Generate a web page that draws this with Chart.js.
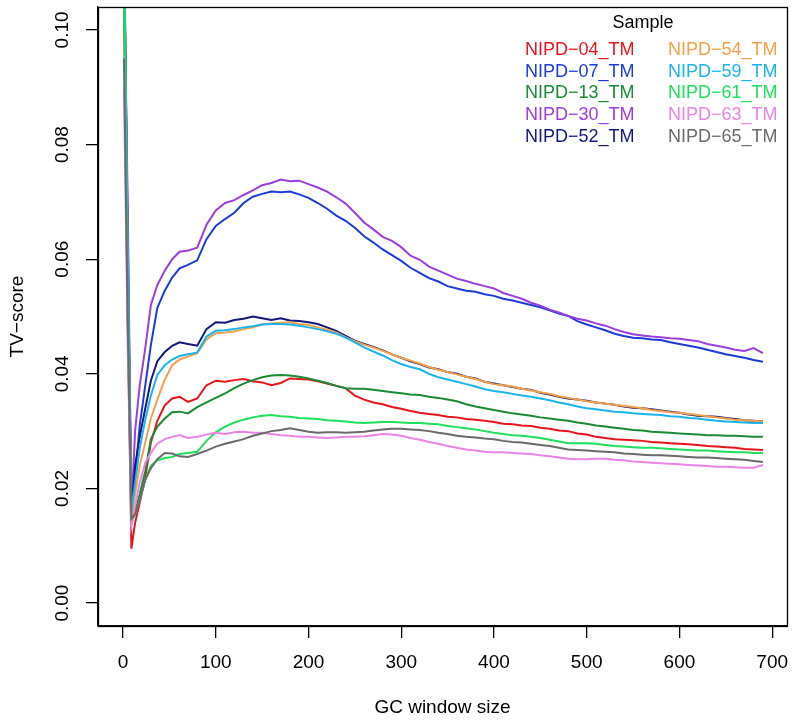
<!DOCTYPE html>
<html>
<head>
<meta charset="utf-8">
<script src="https://cdn.jsdelivr.net/npm/chart.js@4.4.1/dist/chart.umd.min.js"></script>
<style>
  html, body { margin: 0; padding: 0; background: #fff; }
  #wrap { width: 795px; height: 724px; }
</style>
</head>
<body>
<div id="wrap"><canvas id="tv" width="795" height="724"></canvas></div>
<script>
// GC window sizes where the curves were read
const windowSizes = [1, 5, 9, 13, 18, 24, 30, 37, 45, 53, 61, 70, 80, 90,
  100, 110, 120, 130, 140, 150, 160, 170, 180, 190, 200, 210, 220, 230, 240, 250, 260, 270, 280, 290,
  300, 310, 320, 330, 340, 350, 360, 370, 380, 390, 400, 410, 420, 430, 440, 450, 460, 470, 480, 490,
  500, 510, 520, 530, 540, 550, 560, 570, 580, 590, 600, 610, 620, 630, 640, 650, 660, 670, 680, 690]

const sampleNames = ['NIPD-04_TM', 'NIPD-07_TM', 'NIPD-13_TM', 'NIPD-30_TM', 'NIPD-52_TM',
  'NIPD-54_TM', 'NIPD-59_TM', 'NIPD-61_TM', 'NIPD-63_TM', 'NIPD-65_TM']

const nipd04 = [0.105, 0.050, 0.0095, 0.0140, 0.0175, 0.0220, 0.0280, 0.0318, 0.0345, 0.0357, 0.0360, 0.0351, 0.0357, 0.0380,
  0.0388, 0.0386, 0.0389, 0.0391, 0.0387, 0.0385, 0.0380, 0.0384, 0.0392, 0.0391, 0.0390, 0.0387, 0.0383, 0.0379, 0.0375, 0.0362, 0.0355, 0.0350, 0.0347, 0.0342,
  0.0339, 0.0335, 0.0332, 0.0330, 0.0328, 0.0325, 0.0324, 0.0321, 0.0320, 0.0318, 0.0316, 0.0313, 0.0312, 0.0310, 0.0309, 0.0306, 0.0304, 0.0301, 0.0300, 0.0296,
  0.0294, 0.0290, 0.0288, 0.0286, 0.0285, 0.0284, 0.0283, 0.0281, 0.0280, 0.0279, 0.0278, 0.0277, 0.0276, 0.0274, 0.0273, 0.0272, 0.0271, 0.0269, 0.0268, 0.0267]
const nipd07 = [0.115, 0.065, 0.0150, 0.0220, 0.0310, 0.0380, 0.0450, 0.0515, 0.0545, 0.0568, 0.0584, 0.0590, 0.0598, 0.0635,
  0.0658, 0.0670, 0.0681, 0.0698, 0.0709, 0.0714, 0.0718, 0.0717, 0.0718, 0.0713, 0.0707, 0.0698, 0.0688, 0.0676, 0.0667, 0.0655, 0.0640, 0.0629, 0.0617, 0.0607,
  0.0597, 0.0585, 0.0576, 0.0567, 0.0561, 0.0553, 0.0549, 0.0545, 0.0543, 0.0539, 0.0536, 0.0531, 0.0528, 0.0524, 0.0520, 0.0516, 0.0511, 0.0505, 0.0501, 0.0492,
  0.0486, 0.0481, 0.0476, 0.0470, 0.0466, 0.0463, 0.0462, 0.0460, 0.0459, 0.0455, 0.0452, 0.0449, 0.0446, 0.0442, 0.0438, 0.0434, 0.0431, 0.0428, 0.0424, 0.0421]
const nipd13 = [0.108, 0.055, 0.0140, 0.0160, 0.0190, 0.0230, 0.0286, 0.0308, 0.0322, 0.0333, 0.0334, 0.0331, 0.0342, 0.0350,
  0.0358, 0.0366, 0.0375, 0.0383, 0.0389, 0.0394, 0.0397, 0.0398, 0.0397, 0.0395, 0.0392, 0.0388, 0.0384, 0.0379, 0.0375, 0.0374, 0.0374, 0.0372, 0.0370, 0.0368,
  0.0366, 0.0364, 0.0363, 0.0360, 0.0358, 0.0355, 0.0352, 0.0347, 0.0343, 0.0340, 0.0337, 0.0334, 0.0331, 0.0329, 0.0327, 0.0324, 0.0322, 0.0320, 0.0318, 0.0315,
  0.0313, 0.0310, 0.0308, 0.0306, 0.0304, 0.0302, 0.0301, 0.0299, 0.0298, 0.0297, 0.0296, 0.0295, 0.0294, 0.0293, 0.0293, 0.0292, 0.0292, 0.0291, 0.0290, 0.0290]
const nipd30 = [0.112, 0.070, 0.0160, 0.0300, 0.0380, 0.0445, 0.0520, 0.0555, 0.0580, 0.0600, 0.0613, 0.0615, 0.0620, 0.0660,
  0.0685, 0.0698, 0.0703, 0.0712, 0.0720, 0.0729, 0.0733, 0.0739, 0.0736, 0.0737, 0.0731, 0.0725, 0.0718, 0.0708, 0.0697, 0.0681, 0.0664, 0.0652, 0.0639, 0.0632,
  0.0621, 0.0606, 0.0599, 0.0587, 0.0580, 0.0573, 0.0566, 0.0562, 0.0557, 0.0553, 0.0549, 0.0541, 0.0536, 0.0531, 0.0524, 0.0519, 0.0512, 0.0507, 0.0501, 0.0496,
  0.0493, 0.0488, 0.0484, 0.0478, 0.0473, 0.0469, 0.0467, 0.0465, 0.0464, 0.0462, 0.0461, 0.0459, 0.0457, 0.0452, 0.0449, 0.0446, 0.0442, 0.0440, 0.0445, 0.0436]
const nipd52 = [0.118, 0.060, 0.0160, 0.0240, 0.0290, 0.0340, 0.0388, 0.0422, 0.0438, 0.0449, 0.0455, 0.0452, 0.0449, 0.0478,
  0.0490, 0.0489, 0.0494, 0.0496, 0.0500, 0.0497, 0.0494, 0.0497, 0.0493, 0.0492, 0.0490, 0.0487, 0.0481, 0.0475, 0.0466, 0.0458, 0.0452, 0.0447, 0.0441, 0.0434,
  0.0428, 0.0422, 0.0417, 0.0411, 0.0408, 0.0403, 0.0400, 0.0395, 0.0392, 0.0386, 0.0383, 0.0380, 0.0377, 0.0374, 0.0372, 0.0367, 0.0364, 0.0360, 0.0357, 0.0355,
  0.0353, 0.0350, 0.0348, 0.0346, 0.0343, 0.0341, 0.0340, 0.0338, 0.0336, 0.0334, 0.0332, 0.0329, 0.0327, 0.0326, 0.0325, 0.0323, 0.0321, 0.0319, 0.0318, 0.0317]
const nipd54 = [0.112, 0.060, 0.0150, 0.0190, 0.0240, 0.0280, 0.0322, 0.0355, 0.0390, 0.0415, 0.0425, 0.0430, 0.0436, 0.0460,
  0.0471, 0.0472, 0.0474, 0.0478, 0.0481, 0.0486, 0.0488, 0.0489, 0.0490, 0.0487, 0.0485, 0.0481, 0.0477, 0.0472, 0.0464, 0.0457, 0.0451, 0.0446, 0.0440, 0.0434,
  0.0428, 0.0423, 0.0418, 0.0412, 0.0407, 0.0403, 0.0399, 0.0395, 0.0391, 0.0386, 0.0382, 0.0380, 0.0378, 0.0374, 0.0371, 0.0368, 0.0365, 0.0361, 0.0358, 0.0355,
  0.0352, 0.0350, 0.0348, 0.0346, 0.0344, 0.0342, 0.0340, 0.0337, 0.0335, 0.0333, 0.0332, 0.0330, 0.0328, 0.0326, 0.0324, 0.0322, 0.0320, 0.0319, 0.0318, 0.0317]
const nipd59 = [0.120, 0.062, 0.0160, 0.0210, 0.0270, 0.0320, 0.0362, 0.0398, 0.0415, 0.0425, 0.0431, 0.0434, 0.0437, 0.0465,
  0.0475, 0.0476, 0.0478, 0.0481, 0.0483, 0.0486, 0.0487, 0.0487, 0.0486, 0.0484, 0.0481, 0.0478, 0.0474, 0.0470, 0.0463, 0.0455, 0.0446, 0.0439, 0.0432, 0.0424,
  0.0417, 0.0412, 0.0408, 0.0400, 0.0394, 0.0390, 0.0386, 0.0382, 0.0378, 0.0373, 0.0370, 0.0368, 0.0365, 0.0362, 0.0360, 0.0357, 0.0354, 0.0350, 0.0347, 0.0343,
  0.0340, 0.0338, 0.0336, 0.0334, 0.0333, 0.0331, 0.0330, 0.0329, 0.0328, 0.0326, 0.0325, 0.0323, 0.0322, 0.0320, 0.0318, 0.0317, 0.0316, 0.0315, 0.0314, 0.0314]
const nipd61 = [0.110, 0.050, 0.0140, 0.0155, 0.0180, 0.0215, 0.0240, 0.0249, 0.0253, 0.0255, 0.0260, 0.0262, 0.0264, 0.0283,
  0.0298, 0.0308, 0.0315, 0.0320, 0.0324, 0.0327, 0.0328, 0.0326, 0.0325, 0.0323, 0.0322, 0.0321, 0.0319, 0.0318, 0.0317, 0.0315, 0.0314, 0.0315, 0.0316, 0.0316,
  0.0315, 0.0314, 0.0314, 0.0313, 0.0312, 0.0309, 0.0307, 0.0305, 0.0303, 0.0300, 0.0297, 0.0295, 0.0293, 0.0292, 0.0290, 0.0288, 0.0285, 0.0282, 0.0279, 0.0279,
  0.0279, 0.0278, 0.0276, 0.0274, 0.0273, 0.0272, 0.0271, 0.0271, 0.0270, 0.0269, 0.0268, 0.0267, 0.0266, 0.0266, 0.0265, 0.0264, 0.0263, 0.0263, 0.0262, 0.0262]
const nipd63 = [0.090, 0.045, 0.0135, 0.0170, 0.0210, 0.0245, 0.0262, 0.0278, 0.0286, 0.0290, 0.0293, 0.0288, 0.0290, 0.0294,
  0.0297, 0.0295, 0.0298, 0.0299, 0.0297, 0.0297, 0.0295, 0.0293, 0.0292, 0.0290, 0.0290, 0.0289, 0.0288, 0.0289, 0.0290, 0.0290, 0.0291, 0.0293, 0.0295, 0.0294,
  0.0292, 0.0288, 0.0285, 0.0281, 0.0278, 0.0274, 0.0271, 0.0268, 0.0266, 0.0264, 0.0263, 0.0263, 0.0262, 0.0261, 0.0260, 0.0258, 0.0256, 0.0254, 0.0252, 0.0251,
  0.0251, 0.0252, 0.0252, 0.0250, 0.0249, 0.0247, 0.0246, 0.0245, 0.0244, 0.0243, 0.0242, 0.0241, 0.0240, 0.0239, 0.0238, 0.0238, 0.0237, 0.0236, 0.0236, 0.0241]
const nipd65 = [0.095, 0.050, 0.0147, 0.0155, 0.0180, 0.0215, 0.0235, 0.0251, 0.0262, 0.0261, 0.0256, 0.0255, 0.0260, 0.0266,
  0.0273, 0.0278, 0.0282, 0.0286, 0.0292, 0.0296, 0.0300, 0.0302, 0.0305, 0.0302, 0.0299, 0.0297, 0.0298, 0.0298, 0.0297, 0.0298, 0.0299, 0.0301, 0.0303, 0.0304,
  0.0304, 0.0303, 0.0302, 0.0300, 0.0297, 0.0295, 0.0292, 0.0290, 0.0289, 0.0287, 0.0286, 0.0283, 0.0281, 0.0280, 0.0278, 0.0276, 0.0274, 0.0271, 0.0268, 0.0267,
  0.0266, 0.0265, 0.0264, 0.0263, 0.0261, 0.0260, 0.0259, 0.0258, 0.0258, 0.0257, 0.0256, 0.0255, 0.0254, 0.0254, 0.0253, 0.0252, 0.0251, 0.0250, 0.0248, 0.0246]

const seriesValues = [nipd04, nipd07, nipd13, nipd30, nipd52, nipd54, nipd59, nipd61, nipd63, nipd65]
const lineColors = ['#e8141c', '#1c3ad8', '#1b8a34', '#9a3ede', '#10187c',
  '#f4a048', '#1ab4ec', '#1ee05a', '#ea84e6', '#6a6a6a']

const FONT = '"Liberation Sans", Arial, Helvetica, sans-serif'
const MINUS = '\u2212'

// draws box, tick labels, axis titles and the R-style text legend
const framePlugin = {
  id: 'frame',
  afterDraw(chart) {
    const ctx = chart.ctx
    const area = chart.chartArea
    const xs = chart.scales.x
    const ys = chart.scales.y
    ctx.save()
    ctx.strokeStyle = '#000'
    ctx.lineWidth = 1.3
    ctx.strokeRect(Math.round(area.left) + 0.5, Math.round(area.top) + 0.5,
      Math.round(area.right - area.left), Math.round(area.bottom - area.top))

    ctx.fillStyle = '#000'
    ctx.font = '19px ' + FONT
    ctx.textAlign = 'center'
    ctx.textBaseline = 'middle'
    xs.ticks.forEach((t) => {
      ctx.fillText(String(Math.round(t.value)), xs.getPixelForValue(t.value), 663)
    })
    ys.ticks.forEach((t) => {
      ctx.save()
      ctx.translate(63, ys.getPixelForValue(t.value))
      ctx.rotate(-Math.PI / 2)
      ctx.fillText(t.value.toFixed(2), 0, 0)
      ctx.restore()
    })

    // axis titles
    ctx.fillText('GC window size', (area.left + area.right) / 2, 708)
    ctx.save()
    ctx.translate(18, (area.top + area.bottom) / 2)
    ctx.rotate(-Math.PI / 2)
    ctx.fillText('TV' + MINUS + 'score', 0, 0)
    ctx.restore()

    // legend
    ctx.font = '18px ' + FONT
    ctx.fillText('Sample', 643, 23)
    ctx.textAlign = 'left'
    chart.data.datasets.forEach((ds, i) => {
      const col = Math.floor(i / 5)
      const row = i % 5
      ctx.fillStyle = ds.borderColor
      ctx.fillText(ds.label.replace('-', MINUS), col === 0 ? 525 : 668, 50 + row * 21.7)
    })
    ctx.restore()
  }
}

const datasets = seriesValues.map((vals, i) => ({
  label: sampleNames[i],
  data: vals.map((v, j) => ({ x: windowSizes[j], y: v })),
  borderColor: lineColors[i],
  backgroundColor: lineColors[i],
  borderWidth: 2,
  pointRadius: 0,
  tension: 0,
  fill: false,
  order: seriesValues.length - i
}))

new Chart(document.getElementById('tv'), {
  type: 'line',
  data: { datasets },
  options: {
    responsive: false,
    animation: false,
    devicePixelRatio: 1,
    layout: { padding: { top: 7, right: 8, left: 0, bottom: 0 } },
    plugins: { legend: { display: false }, tooltip: { enabled: false } },
    scales: {
      x: {
        type: 'linear',
        min: -27,
        max: 716,
        afterFit: (s) => { s.height = 98 },
        ticks: { display: false, stepSize: 100, includeBounds: false },
        grid: { display: true, drawOnChartArea: false, drawTicks: true, tickLength: 12, color: '#000', lineWidth: 1.3 },
        border: { display: true, color: '#000', width: 1.3 }
      },
      y: {
        type: 'linear',
        min: -0.004,
        max: 0.104,
        afterFit: (s) => { s.width = 98 },
        ticks: { display: false, stepSize: 0.02, includeBounds: false },
        grid: { display: true, drawOnChartArea: false, drawTicks: true, tickLength: 12, color: '#000', lineWidth: 1.3 },
        border: { display: true, color: '#000', width: 1.3 }
      }
    }
  },
  plugins: [framePlugin]
})
</script>
</body>
</html>
